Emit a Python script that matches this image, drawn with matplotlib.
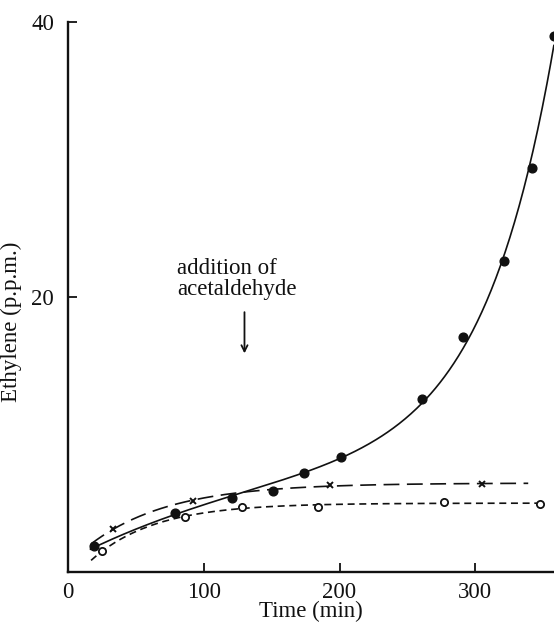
import numpy as np
import matplotlib
matplotlib.use("Agg")
import matplotlib.pyplot as plt

# Ethylene (p.p.m.) measured over time (min)
fed_time = [19, 79, 121, 151, 174, 201, 261, 291, 321, 342, 358]
fed_ethylene = [1.9, 4.3, 5.4, 5.9, 7.2, 8.4, 12.6, 17.1, 22.6, 29.4, 39.0]

cross_time = [33, 92, 193, 305]
cross_ethylene = [3.1, 5.2, 6.3, 6.4]

open_time = [25, 86, 128, 184, 277, 348]
open_ethylene = [1.5, 4.0, 4.75, 4.75, 5.1, 4.95]

x_ticks = [0, 100, 200, 300]
y_ticks = [20, 40]

addition_time = 130


def make_basis(tau, s):
    def basis(x):
        x = np.asarray(x, float)
        cols = [np.ones_like(x), np.exp(-x / tau)]
        if s is not None:
            cols.append(np.exp((x - 358.0) / s))
        return np.column_stack(cols)
    return basis


def fitted_trend(t, y, t_start, t_end, rising=False):
    """Least-squares trend: plateau approach, optionally plus an exponential rise."""
    t = np.asarray(t, float)
    y = np.asarray(y, float)
    best = None
    for tau in np.arange(15, 160, 1.0):
        for s in (np.arange(20, 160, 1.0) if rising else [None]):
            basis = make_basis(tau, s)
            A = basis(t)
            coef, *_ = np.linalg.lstsq(A, y, rcond=None)
            err = np.sum((A @ coef - y) ** 2)
            if best is None or err < best[0]:
                best = (err, basis, coef)
    _, basis, coef = best
    xs = np.linspace(t_start, t_end, 400)
    return xs, basis(xs) @ coef


plt.rcParams["font.family"] = ["Liberation Serif", "DejaVu Serif"]
ink = "#111111"

fig = plt.figure(figsize=(5.54, 6.22), dpi=100)
ax = fig.add_axes([68 / 554, 50 / 622, 486 / 554, 550 / 622])

xs, ys = fitted_trend(fed_time, fed_ethylene, 16, 358, rising=True)
ax.plot(xs, ys, color=ink, lw=1.2, solid_capstyle="butt")
ax.plot(fed_time, fed_ethylene, "o", color=ink, ms=6.3, mec=ink)

xs, ys = fitted_trend(cross_time, cross_ethylene, 17, 339)
ax.plot(xs, ys, color=ink, lw=1.2, dashes=(9.5, 4.5))
ax.plot(cross_time, cross_ethylene, "x", color=ink, ms=4.5, mew=1.4)

xs, ys = fitted_trend(open_time, open_ethylene, 17, 348)
ax.plot(xs, ys, color=ink, lw=1.2, dashes=(4.2, 2.8))
ax.plot(open_time, open_ethylene, "o", color=ink, ms=5.2, mfc="white",
        mec=ink, mew=1.3)

ax.annotate("", xy=(addition_time, 15.7), xytext=(addition_time, 19.1),
            arrowprops=dict(arrowstyle="->", color=ink, lw=1.3,
                            mutation_scale=11))
ax.text(80.5, 22.8, "addition of\nacetaldehyde", fontsize=16.5, color=ink,
        ha="left", va="top", linespacing=1.0)

ax.set_xlim(0, 358)
ax.set_ylim(0, 40)
ax.set_xticks(x_ticks)
ax.set_yticks(y_ticks)
ax.tick_params(direction="in", length=6.5, width=1.3, labelsize=16.5,
               colors=ink)
ax.tick_params(axis="x", pad=7)
ax.tick_params(axis="y", pad=10)
for side in ("top", "right"):
    ax.spines[side].set_visible(False)
for side in ("left", "bottom"):
    ax.spines[side].set_linewidth(1.7)
    ax.spines[side].set_color(ink)

ax.set_xlabel("Time (min)", fontsize=16.5, color=ink)
ax.xaxis.set_label_coords(0.5, -0.052)
ax.set_ylabel("Ethylene (p.p.m.)", fontsize=16.5, color=ink)
ax.yaxis.set_label_coords(-0.095, 0.455)

fig.savefig("out.png", dpi=100, facecolor="white")
